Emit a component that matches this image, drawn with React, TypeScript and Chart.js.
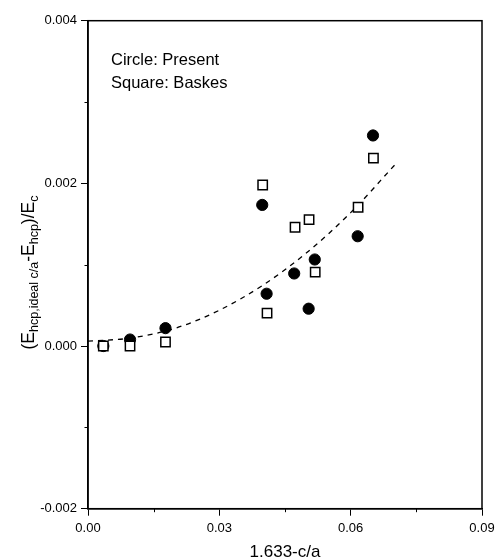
import React, { useEffect, useRef } from "react";
import { Chart, registerables } from "chart.js";

Chart.register(...registerables);

const presentX = [0.0035, 0.0096, 0.0177, 0.0398, 0.0408, 0.0471, 0.0504, 0.0518, 0.0616, 0.0651];
const presentY = [0.0, 0.00008, 0.00022, 0.001735, 0.000643, 0.000892, 0.000459, 0.001064, 0.00135, 0.002589];
const baskesX = [0.0035, 0.0096, 0.0177, 0.0399, 0.0409, 0.0473, 0.0505, 0.0519, 0.0617, 0.0652];
const baskesY = [0.0, 0.0, 0.00005, 0.00198, 0.000405, 0.00146, 0.001555, 0.000908, 0.001706, 0.002311];
const fitX = [0, 0.01, 0.02, 0.03, 0.04, 0.05, 0.06, 0.0703];
const fitY = [0.00006, 0.0001, 0.00022, 0.00044, 0.00075, 0.00115, 0.00164, 0.00224];
const xMinorTicks = [0.015, 0.045, 0.075];
const yMinorTicks = [-0.001, 0.001, 0.003];
const legendLines = ["Circle: Present", "Square: Baskes"];

const FONT = "'Liberation Sans', Arial, sans-serif";

const pts = (xs: number[], ys: number[]) => xs.map((x, i) => ({ x, y: ys[i] }));

const decorPlugin = {
  id: "decor",
  afterDraw(chart: any) {
    const { ctx, chartArea } = chart;
    const xs = chart.scales.x;
    const ys = chart.scales.y;
    ctx.save();
    ctx.strokeStyle = "#000";
    ctx.lineWidth = 1.5;
    ctx.strokeRect(chartArea.left, chartArea.top, chartArea.right - chartArea.left, chartArea.bottom - chartArea.top);
    ctx.lineWidth = 1;
    xMinorTicks.forEach((v) => {
      const px = Math.round(xs.getPixelForValue(v)) + 0.5;
      ctx.beginPath();
      ctx.moveTo(px, chartArea.bottom);
      ctx.lineTo(px, chartArea.bottom + 3.5);
      ctx.stroke();
    });
    yMinorTicks.forEach((v) => {
      const py = Math.round(ys.getPixelForValue(v)) + 0.5;
      ctx.beginPath();
      ctx.moveTo(chartArea.left - 3.5, py);
      ctx.lineTo(chartArea.left, py);
      ctx.stroke();
    });
    ctx.fillStyle = "#000";
    ctx.font = `16.5px ${FONT}`;
    ctx.textAlign = "left";
    ctx.textBaseline = "alphabetic";
    ctx.fillText(legendLines[0], 111, 65);
    ctx.fillText(legendLines[1], 111, 87.5);
    ctx.font = `17px ${FONT}`;
    ctx.textAlign = "center";
    ctx.fillText("1.633-c/a", (chartArea.left + chartArea.right) / 2, 556.5);
    const parts: [string, boolean][] = [
      ["(E", false],
      ["hcp,ideal c/a", true],
      ["-E", false],
      ["hcp", true],
      [")/E", false],
      ["c", true],
    ];
    const mainFont = `17.5px ${FONT}`;
    const subFont = `12.5px ${FONT}`;
    let total = 0;
    parts.forEach(([t, s]) => {
      ctx.font = s ? subFont : mainFont;
      total += ctx.measureText(t).width;
    });
    ctx.translate(34, 272.5);
    ctx.rotate(-Math.PI / 2);
    ctx.textAlign = "left";
    let cx = -total / 2;
    parts.forEach(([t, s]) => {
      ctx.font = s ? subFont : mainFont;
      ctx.fillText(t, cx, s ? 3.5 : 0);
      cx += ctx.measureText(t).width;
    });
    ctx.restore();
  },
};

export default function App() {
  const ref = useRef<HTMLCanvasElement | null>(null);
  useEffect(() => {
    document.body.style.margin = "0";
    if (!ref.current) return;
    const chart = new Chart(ref.current, {
      type: "scatter",
      data: {
        datasets: [
          {
            label: "Baskes",
            data: pts(baskesX, baskesY),
            pointStyle: "rect",
            pointRadius: 6.6,
            pointBackgroundColor: "#fff",
            pointBorderColor: "#000",
            pointBorderWidth: 1.5,
            showLine: false,
            order: 0,
          },
          {
            label: "Present",
            data: pts(presentX, presentY),
            pointStyle: "circle",
            pointRadius: 5.6,
            pointBackgroundColor: "#000",
            pointBorderColor: "#000",
            pointBorderWidth: 1,
            showLine: false,
            order: 1,
          },
          {
            label: "Fit",
            data: pts(fitX, fitY),
            showLine: true,
            pointRadius: 0,
            borderColor: "#000",
            borderWidth: 1.3,
            borderDash: [5, 5],
            cubicInterpolationMode: "monotone",
            order: 2,
          } as any,
        ],
      },
      options: {
        responsive: false,
        animation: false,
        events: [],
        layout: { padding: { top: 20.7, right: 13, left: 0, bottom: 0 } },
        plugins: { legend: { display: false }, tooltip: { enabled: false } },
        scales: {
          x: {
            type: "linear",
            min: 0,
            max: 0.09,
            afterFit: (s: any) => {
              s.height = 49.3;
              s.paddingRight = 0;
              s.paddingLeft = 0;
            },
            ticks: {
              stepSize: 0.03,
              color: "#000",
              font: { family: FONT, size: 13 },
              padding: 5,
              maxRotation: 0,
              callback: (v: any) => Number(v).toFixed(2),
            },
            grid: { display: true, drawOnChartArea: false, drawTicks: true, tickLength: 7, color: "#000", tickWidth: 1 },
            border: { display: true, color: "#000", width: 1.5 },
          },
          y: {
            type: "linear",
            min: -0.002,
            max: 0.004,
            afterFit: (s: any) => {
              s.width = 88;
              s.paddingTop = 0;
              s.paddingBottom = 0;
            },
            ticks: {
              stepSize: 0.002,
              color: "#000",
              font: { family: FONT, size: 13 },
              padding: 4,
              callback: (v: any) => Number(v).toFixed(3),
            },
            grid: { display: true, drawOnChartArea: false, drawTicks: true, tickLength: 7, color: "#000", tickWidth: 1 },
            border: { display: true, color: "#000", width: 1.5 },
          },
        },
      },
      plugins: [decorPlugin],
    });
    return () => chart.destroy();
  }, []);
  return (
    <div style={{ position: "absolute", left: 0, top: 0, width: 495, height: 558, background: "#fff" }}>
      <canvas ref={ref} width={495} height={558} style={{ display: "block", width: 495, height: 558 }} />
    </div>
  );
}
